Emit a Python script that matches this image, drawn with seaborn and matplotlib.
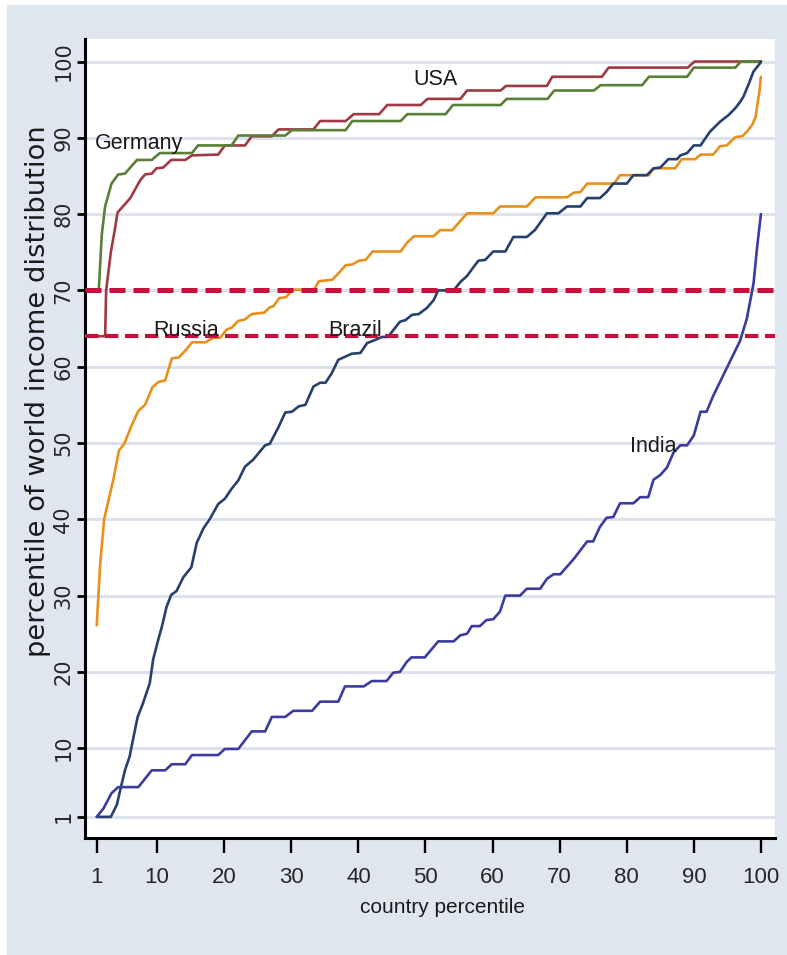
import matplotlib
matplotlib.use("Agg")
import matplotlib.pyplot as plt
from matplotlib.patches import Rectangle
import seaborn as sns
import pandas as pd

# ---------------- data ----------------
usa_x = [1, 2.25, 2.4, 3.1, 3.7, 4.1, 6.0, 7.45, 8.2, 9.2, 9.9, 10.9, 12.1, 14.2, 15.2, 19.1, 20.1,
         23.1, 24.1, 27.1, 28.1, 33.3, 34.3, 38.1, 39.3, 43.1, 44.3, 49.3, 50.3, 55.2, 56.2, 61.2,
         62.0, 68.1, 68.9, 76.3, 77.3, 89.1, 90.1, 100]
usa_y = [64, 64, 70, 75, 78, 80.2, 82.1, 84.4, 85.2, 85.3, 86.0, 86.1, 87.1, 87.1, 87.7, 87.8, 89.0,
         89.0, 90.2, 90.2, 91.1, 91.1, 92.2, 92.2, 93.1, 93.1, 94.3, 94.3, 95.1, 95.1, 96.2, 96.2,
         96.8, 96.8, 98.0, 98.0, 99.2, 99.2, 100, 100]

ger_x = [1, 1.3, 1.75, 2.25, 3.2, 4.2, 5.2, 7.0, 9.2, 10.4, 15.2, 16.1, 21.1, 22.1, 29.1, 30.1,
         38.1, 39.1, 46.3, 47.3, 53.0, 54.1, 61.2, 62.1, 68.2, 69.2, 75.1, 76.1, 82.3, 83.3,
         89.0, 90.0, 96.2, 97.0, 100]
ger_y = [70, 70, 77.3, 81.0, 84.0, 85.2, 85.3, 87.1, 87.1, 88.0, 88.0, 89.0, 89.0, 90.3, 90.3, 91.0,
         91.0, 92.2, 92.2, 93.1, 93.1, 94.3, 94.3, 95.1, 95.1, 96.2, 96.2, 96.9, 96.9, 98.0,
         98.0, 99.2, 99.2, 100, 100]

rus_x = [1, 1.5, 2.1, 2.7, 3.5, 4.3, 5.1, 6.2, 7.2, 8.2, 9.3, 10.2, 11.2, 12.2, 13.2, 14.2, 15.2,
         17.2, 18.4, 19.4, 20.4, 21.1, 22.1, 23.1, 24.1, 26.0, 26.8, 27.3, 28.2, 29.2, 30.2, 33.4,
         34.1, 36.1, 37.1, 38.1, 39.1, 40.1, 41.1, 42.1, 46.3, 47.2, 48.3, 51.2, 52.2, 54.0, 56.2,
         60.1, 61.1, 65.1, 66.4, 71.1, 72.1, 73.1, 74.1, 78.1, 79.0, 83.3, 84.0, 87.2, 88.2, 90.2,
         91.0, 92.9, 93.9, 94.9, 96.2, 97.2, 97.9, 98.7, 99.2, 99.5, 99.8, 100]
rus_y = [26.1, 34.0, 40.0, 42.3, 45.3, 49.0, 49.9, 52.3, 54.2, 55.0, 57.3, 58.0, 58.2, 61.1, 61.2,
         62.1, 63.2, 63.2, 63.8, 63.8, 64.9, 65.1, 66.0, 66.2, 66.9, 67.1, 67.8, 67.9, 69.0, 69.1,
         70.1, 70.1, 71.2, 71.4, 72.3, 73.3, 73.4, 73.9, 74.0, 75.1, 75.1, 76.2, 77.1, 77.1, 77.9,
         77.9, 80.1, 80.1, 81.0, 81.0, 82.2, 82.2, 82.8, 82.9, 84.0, 84.0, 85.1, 85.1, 86.0, 86.0,
         87.2, 87.2, 87.8, 87.8, 88.9, 89.0, 90.1, 90.2, 90.8, 91.7, 92.7, 94.5, 96.2, 98.0]

bra_x = [1, 3.1, 4.0, 4.5, 5.2, 5.9, 6.4, 7.1, 7.9, 8.9, 9.4, 10.1, 10.7, 11.4, 12.1, 12.9, 13.9,
         15.1, 15.9, 16.9, 17.9, 19.1, 20.1, 21.1, 22.1, 23.1, 24.3, 26.1, 26.8, 28.1, 29.1, 30.1,
         31.1, 32.1, 33.3, 34.3, 35.1, 36.0, 37.0, 39.0, 40.3, 41.3, 42.5, 43.5, 44.4, 46.2, 47.0,
         48.0, 49.0, 50.2, 51.2, 51.9, 54.2, 55.2, 56.2, 57.2, 57.9, 58.9, 60.1, 61.9, 63.1, 65.1,
         66.3, 68.1, 69.8, 71.1, 73.1, 74.1, 76.0, 77.0, 78.0, 80.0, 81.0, 83.0, 84.0, 85.0, 86.2,
         87.5, 88.0, 89.0, 90.0, 91.0, 92.4, 93.9, 95.2, 96.2, 96.9, 97.4, 98.2, 98.9, 99.9, 100]
bra_y = [1, 1, 2.6, 4.5, 7.1, 8.9, 11.1, 14.1, 15.9, 18.5, 21.6, 24.0, 25.9, 28.5, 30.1, 30.6, 32.4,
         33.7, 36.9, 38.8, 40.1, 42.0, 42.7, 44.0, 45.1, 46.9, 47.8, 49.7, 49.9, 52.1, 54.0, 54.1,
         54.8, 55.0, 57.4, 57.9, 57.9, 59.1, 60.9, 61.7, 61.8, 63.1, 63.5, 63.9, 63.9, 65.9, 66.1,
         66.8, 66.9, 67.7, 68.7, 70.0, 70.0, 71.1, 71.9, 73.1, 73.9, 74.0, 75.1, 75.1, 77.0, 77.0,
         77.9, 80.1, 80.1, 81.0, 81.0, 82.1, 82.1, 82.9, 84.0, 84.0, 85.1, 85.1, 86.0, 86.1, 87.2,
         87.2, 87.7, 88.0, 89.0, 89.0, 90.8, 92.1, 93.0, 93.9, 94.7, 95.4, 97.1, 98.7, 99.8, 100]

ind_x = [1, 2.0, 3.2, 4.2, 7.2, 9.2, 11.2, 12.2, 14.2, 15.2, 19.1, 20.1, 22.1, 24.1, 26.1, 27.1,
         29.1, 30.3, 33.1, 34.3, 37.0, 38.0, 40.8, 42.0, 44.2, 45.2, 46.2, 47.2, 47.9, 49.9, 51.9,
         54.2, 55.2, 56.2, 56.9, 58.1, 59.1, 60.1, 61.1, 61.9, 64.1, 65.1, 67.1, 68.1, 69.1, 70.1,
         72.1, 74.1, 75.0, 76.0, 77.0, 78.0, 79.0, 81.0, 82.0, 83.2, 84.0, 85.0, 86.0, 87.0, 88.0,
         89.0, 90.0, 91.0, 91.9, 92.9, 94.9, 96.9, 97.9, 98.9, 99.4, 100]
ind_y = [1, 2.1, 4.1, 4.9, 4.9, 7.1, 7.1, 7.9, 7.9, 9.1, 9.1, 9.9, 9.9, 12.2, 12.2, 14.1,
         14.1, 14.9, 14.9, 16.1, 16.1, 18.1, 18.1, 18.8, 18.8, 19.9, 20.0, 21.3, 21.9, 21.9, 24.0,
         24.0, 24.8, 25.0, 26.0, 26.0, 26.8, 26.9, 27.9, 30.0, 30.0, 30.9, 30.9, 32.2, 32.8, 32.8,
         34.8, 37.1, 37.1, 39.0, 40.2, 40.3, 42.1, 42.1, 42.9, 42.9, 45.2, 45.8, 46.8, 48.8, 49.7,
         49.7, 51.0, 54.1, 54.1, 56.2, 59.8, 63.4, 66.3, 70.9, 75.4, 80.0]

countries = ["USA", "Germany", "Russia", "Brazil", "India"]
series_x = [usa_x, ger_x, rus_x, bra_x, ind_x]
series_y = [usa_y, ger_y, rus_y, bra_y, ind_y]
colors = ["#9E3A44", "#5A7F36", "#E8901C", "#26416E", "#3C3CA0"]

label_x = [48.2, 0.75, 9.4, 35.5, 80.5]
label_y = [97.6, 89.3, 64.7, 64.7, 49.6]

thresholds = [70, 64]

xticks = [1, 10, 20, 30, 40, 50, 60, 70, 80, 90, 100]
yticks = [1, 10, 20, 30, 40, 50, 60, 70, 80, 90, 100]

xlabel = "country percentile"
ylabel = "percentile of world income distribution"

# ---------------- build table ----------------
rows = []
for c, xs, ys in zip(countries, series_x, series_y):
    for i, (xv, yv) in enumerate(zip(xs, ys)):
        rows.append({"country": c, "order": i, "pct": xv, "val": yv})
df = pd.DataFrame(rows)

# ---------------- style ----------------
sns.set_theme(style="white")
plt.rcParams["font.family"] = ["Liberation Sans", "DejaVu Sans"]
NARROW = ["Liberation Sans", "DejaVu Sans"]
WIDE = ["DejaVu Sans"]

BG = "#E0E6F0"
GRID = "#DCE1EB"

W, H = 787, 955
fig = plt.figure(figsize=(W / 100, H / 100), dpi=100)
fig.patch.set_facecolor("white")
fig.add_artist(Rectangle((7 / W, 0), 1, (H - 5) / H, transform=fig.transFigure,
                         facecolor=BG, edgecolor="none", zorder=-10))

ax = fig.add_axes([85 / W, 1 - 838 / H, 690 / W, 799 / H])
ax.set_facecolor("white")

sns.lineplot(data=df, x="pct", y="val", hue="country", hue_order=countries,
             palette=dict(zip(countries, colors)), estimator=None, sort=False,
             units="country", legend=False, linewidth=1.9, ax=ax, zorder=3)

for t, lw in zip(thresholds, [3.6, 3.0]):
    ax.axhline(t, color="#C8103E", lw=lw, dashes=(3.2, 1.6), zorder=4)

for c, lx, ly in zip(countries, label_x, label_y):
    ax.text(lx, ly, c, ha="left", va="center", fontsize=15.5, family=NARROW,
            color="#1a1a1a", zorder=5)

ax.set_xlim(-0.75, 102.1)
ax.set_ylim(-1.77, 102.95)

ax.set_xticks(xticks)
ax.set_xticklabels([str(v) for v in xticks], family=NARROW, fontsize=16)
ax.set_yticks(yticks)
ax.set_yticklabels([str(v) for v in yticks], rotation=90, va="center", fontsize=15,
                   family=WIDE)

ax.tick_params(axis="x", direction="out", length=10.8, width=1.7, color="black",
               pad=10, bottom=True)
ax.tick_params(axis="y", direction="out", length=5.8, width=2.0, color="black",
               pad=2.5, left=True)

ax.grid(axis="y", color=GRID, lw=2.2, zorder=0)
ax.grid(axis="x", visible=False)
ax.set_axisbelow(True)

for s in ["top", "right"]:
    ax.spines[s].set_visible(False)
for s in ["left", "bottom"]:
    ax.spines[s].set_visible(True)
    ax.spines[s].set_color("black")
    ax.spines[s].set_linewidth(2.2)

ax.set_xlabel(xlabel, family=NARROW, fontsize=15, color="#1a1a1a")
ax.xaxis.set_label_coords((443 - 85) / 690, (838 - 898) / 799)
ax.xaxis.label.set_va("top")

ax.set_ylabel(ylabel, fontsize=19.7, family=WIDE, color="#1a1a1a")
ax.yaxis.label.set_va("center")
ax.yaxis.set_label_coords((38 - 85) / 690, (838 - 391) / 799)

fig.savefig("out.png", dpi=100, facecolor=fig.get_facecolor())
